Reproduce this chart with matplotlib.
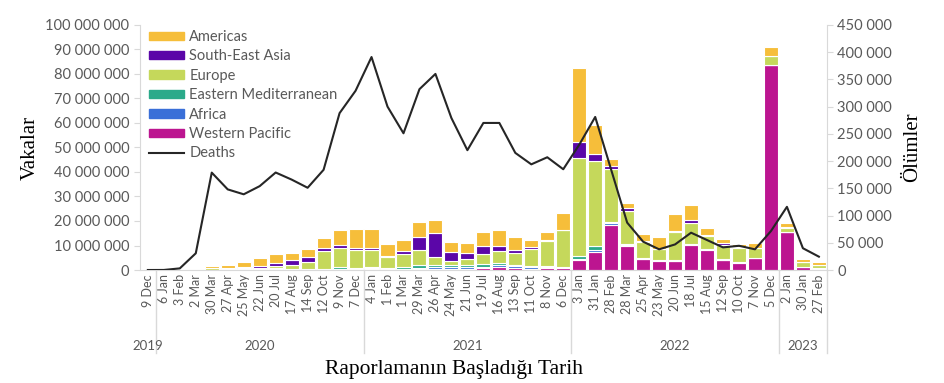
import numpy as np
import matplotlib.pyplot as plt
from matplotlib.ticker import FuncFormatter, MultipleLocator
from matplotlib.patches import Patch
from matplotlib.lines import Line2D

# 4 haftalık raporlama dönemleri
periods = ['9 Dec',
           '6 Jan', '3 Feb', '2 Mar', '30 Mar', '27 Apr', '25 May', '22 Jun', '20 Jul',
           '17 Aug', '14 Sep', '12 Oct', '9 Nov', '7 Dec',
           '4 Jan', '1 Feb', '1 Mar', '29 Mar', '26 Apr', '24 May', '21 Jun', '19 Jul',
           '16 Aug', '13 Sep', '11 Oct', '8 Nov', '6 Dec',
           '3 Jan', '31 Jan', '28 Feb', '28 Mar', '25 Apr', '23 May', '20 Jun', '18 Jul',
           '15 Aug', '12 Sep', '10 Oct', '7 Nov', '5 Dec',
           '2 Jan', '30 Jan', '27 Feb']
years = ['2019', '2020', '2021', '2022', '2023']
year_counts = [1, 13, 13, 13, 3]

# vakalar (milyon)
western_pacific = [0, 0.01, 0.07, 0.02, 0.05, 0.05, 0.05, 0.1, 0.1, 0.1, 0.1, 0.1, 0.2, 0.3,
                   0.3, 0.2, 0.2, 0.3, 0.4, 0.4, 0.5, 1.0, 1.4, 1.0, 0.6, 0.8, 0.9,
                   4.0, 7.5, 18.5, 9.8, 4.3, 3.8, 3.5, 10.3, 8.3, 3.9, 3.0, 4.8, 83.5,
                   15.4, 1.2, 0.6]
africa = [0, 0, 0, 0.01, 0.02, 0.05, 0.1, 0.2, 0.3, 0.2, 0.1, 0.1, 0.4, 0.3,
          0.4, 0.3, 0.2, 0.4, 0.8, 1.0, 0.6, 0.3, 0.5, 0.8, 0.7, 0.5, 0.3,
          0.3, 0.5, 0.5, 0.4, 0.3, 0.2, 0.2, 0.2, 0.2, 0.2, 0.2, 0.1, 0.1,
          0.1, 0.05, 0.1]
eastern_med = [0, 0, 0.01, 0.05, 0.1, 0.2, 0.3, 0.3, 0.4, 0.3, 0.3, 0.4, 0.5, 0.4,
               0.4, 0.4, 0.9, 1.2, 0.8, 0.6, 1.1, 1.1, 1.1, 0.3, 0.2, 0.2, 0.2,
               1.5, 1.8, 0.6, 0.4, 0.3, 0.2, 0.2, 0.2, 0.2, 0.2, 0.2, 0.1, 0.1,
               0.1, 0.05, 0.2]
europe = [0, 0, 0.01, 0.3, 0.5, 0.4, 0.3, 0.4, 0.7, 1.5, 2.7, 7.0, 8.0, 7.3,
          6.9, 4.5, 5.4, 6.2, 3.3, 1.8, 2.1, 4.3, 4.7, 5.0, 7.0, 10.3, 14.8,
          40.0, 34.5, 21.5, 13.6, 6.5, 4.2, 11.6, 8.6, 5.2, 6.0, 5.6, 3.8, 3.6,
          1.6, 1.8, 1.0]
south_east_asia = [0, 0, 0, 0.02, 0.05, 0.1, 0.5, 0.8, 1.4, 2.0, 2.2, 1.5, 1.2, 0.8,
                   0.8, 0.3, 1.0, 5.5, 9.8, 3.6, 2.8, 3.2, 2.1, 1.0, 0.8, 0.3, 0.3,
                   6.5, 3.2, 1.2, 1.0, 0.3, 0.2, 0.6, 1.2, 0.4, 0.6, 0.3, 0.2, 0.2,
                   0.5, 0.2, 0.3]
americas = [0, 0, 0.01, 0.1, 0.9, 1.3, 2.2, 3.0, 3.6, 3.0, 3.0, 3.8, 6.0, 7.6,
            7.9, 4.8, 4.5, 5.9, 5.3, 4.2, 4.1, 5.5, 6.5, 5.2, 2.9, 3.3, 6.9,
            30.0, 11.5, 2.9, 2.0, 2.9, 4.9, 6.6, 6.0, 3.0, 1.6, 1.3, 1.9, 3.5,
            1.6, 1.2, 0.9]

deaths = [0, 100, 3000, 30700, 178800, 148000, 139000, 154000, 179000, 166000, 151000,
          184000, 288000, 329000, 391000, 300000, 251000, 332000, 360000, 279000, 220000,
          270000, 270000, 215000, 194000, 207000, 185000, 230000, 281000, 184000, 87000,
          52000, 38000, 47000, 68500, 55000, 41500, 44500, 38000, 71500, 116000, 40000,
          24500]

series = [('Western Pacific', western_pacific, '#BC1590'),
          ('Africa', africa, '#3A6FD8'),
          ('Eastern Mediterranean', eastern_med, '#2BAA8A'),
          ('Europe', europe, '#C5D85B'),
          ('South-East Asia', south_east_asia, '#5B06A8'),
          ('Americas', americas, '#F6BE3A')]

grey = '#595959'
axcol = '#D9D9D9'
fmt = FuncFormatter(lambda v, p: f'{int(round(v)):,}'.replace(',', ' '))

fig = plt.figure(figsize=(9.45, 3.83), dpi=100)
ax = fig.add_axes([0.148, 0.295, 0.727, 0.64])
ax2 = ax.twinx()

x = np.arange(len(periods))
bottom = np.zeros(len(periods))
for name, vals, col in series:
    v = np.array(vals) * 1e6
    ax.bar(x, v, 0.88, bottom=bottom, color=col, edgecolor='white', linewidth=0.8,
           label=name, zorder=2)
    bottom += v

ax2.plot(x, deaths, color='#262626', lw=1.5, zorder=3)

ax.set_xlim(-0.5, len(periods) - 0.5)
ax.set_ylim(0, 100e6)
ax2.set_ylim(0, 450000)
ax.yaxis.set_major_locator(MultipleLocator(10e6))
ax2.yaxis.set_major_locator(MultipleLocator(50000))
ax.yaxis.set_major_formatter(fmt)
ax2.yaxis.set_major_formatter(fmt)

for a in (ax, ax2):
    for s in a.spines.values():
        s.set_visible(False)
    a.tick_params(axis='y', colors=axcol, labelcolor=grey, labelsize=10.5, length=4)
    for lab in a.get_yticklabels():
        lab.set_family('Lato')
ax.spines['left'].set_visible(True)
ax.spines['left'].set_color(axcol)
ax.spines['bottom'].set_visible(True)
ax.spines['bottom'].set_color(axcol)
ax2.spines['right'].set_visible(True)
ax2.spines['right'].set_color(axcol)

ax.set_xticks(x)
ax.set_xticklabels(periods, rotation=90, fontsize=9, color=grey, family='Lato')
ax.tick_params(axis='x', length=0, pad=3)

# yıl etiketleri ve ayırıcı çizgiler
trans = ax.get_xaxis_transform()
start = 0
bounds = [-0.5]
for yr, n in zip(years, year_counts):
    mid = start + (n - 1) / 2
    ax.text(mid, -0.31, yr, transform=trans, ha='center', va='center',
            fontsize=9.5, color=grey, family='Lato')
    start += n
    bounds.append(start - 0.5)
for b in bounds[1:]:
    ax.plot([b, b], [0, -0.34], transform=trans, color=axcol, lw=1, clip_on=False)

ax.set_ylabel('Vakalar', family='Liberation Serif', fontsize=15, labelpad=4)
ax2.set_ylabel('Ölümler', family='Liberation Serif', fontsize=15, labelpad=8)
fig.text(0.48, 0.035, 'Raporlamanın Başladığı Tarih', family='Liberation Serif',
         fontsize=15.5, ha='center', va='center')

handles = [Patch(color=c) for _, _, c in series[::-1]]
labels = [n for n, _, _ in series[::-1]]
handles.append(Line2D([], [], color='#262626', lw=1.5))
labels.append('Deaths')
leg = ax2.legend(handles, labels, loc='upper left', bbox_to_anchor=(0.0, 1.015), frameon=False,
                 prop={'family': 'Lato', 'size': 10.5}, labelcolor=grey,
                 handlelength=2.4, handleheight=0.5, labelspacing=0.37, handletextpad=0.4,
                 borderaxespad=0.2)

fig.savefig('out.png', dpi=100)
